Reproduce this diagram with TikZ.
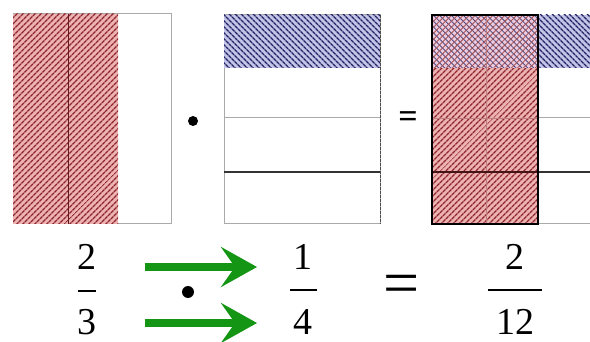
\documentclass[tikz,border=0pt]{standalone}
\usepackage{fontspec}
\setmainfont{Liberation Serif}
\usepackage{tikz}
\usetikzlibrary{arrows.meta, patterns.meta}
\definecolor{redFill}{RGB}{238,178,178}
\definecolor{redLine}{RGB}{140,40,45}
\definecolor{blueFill}{RGB}{196,196,232}
\definecolor{blueLine}{RGB}{35,35,100}
\definecolor{mixFill}{RGB}{238,205,225}
\definecolor{gridGray}{RGB}{170,170,170}
\definecolor{arrowGreen}{RGB}{20,150,20}
\tikzset{
  redHatch/.style={
    pattern={Lines[angle=45, distance=4pt, line width=1.4pt]},
    pattern color=redLine,
    preaction={fill=redFill}
  },
  blueHatch/.style={
    pattern={Lines[angle=-45, distance=4pt, line width=1.4pt]},
    pattern color=blueLine,
    preaction={fill=blueFill}
  },
  mixHatch/.style={
    pattern={Lines[angle=-45, distance=4.2pt, line width=0.9pt]},
    pattern color=blueLine!80,
    preaction={fill=mixFill},
    postaction={pattern={Lines[angle=45, distance=4.2pt, line width=0.9pt]}, pattern color=redLine!80}
  },
  frame/.style={draw=gridGray, line width=1pt},
  thinrule/.style={draw=gridGray, line width=1pt},
  darkrule/.style={draw=black!80, line width=1.3pt},
  numtxt/.style={font=\fontsize{38}{44}\selectfont, inner sep=0pt},
  eqtxt/.style={font=\fontsize{34}{40}\selectfont\bfseries, inner sep=0pt},
  bigeq/.style={font=\fontsize{64}{70}\selectfont, inner sep=0pt},
  fracbar/.style={draw=black, line width=2.6pt},
  bigdot/.style={fill=black, draw=none},
  greenArrow/.style={-{Stealth[length=36pt, width=40pt, inset=14pt]}, line width=8pt, draw=arrowGreen, fill=arrowGreen}
}

\begin{document}
\begin{tikzpicture}[x=1pt, y=-1pt]
  \useasboundingbox (0,0) rectangle (590,342);

  % first factor: two thirds
  \draw[frame] (13,14) rectangle (171,224);
  \path[redHatch] (13,14) rectangle (118,224);
  \draw[draw=redLine!70!black, line width=1pt] (68,14) -- (68,224);

  \fill[bigdot] (193,121) circle (5pt);

  % second factor: one quarter
  \draw[frame] (224,15) rectangle (380,224);
  \path[blueHatch] (224,15) rectangle (380,68);
  \draw[thinrule] (224,118) -- (380,118);
  \draw[darkrule] (224,172) -- (380,172);
  \draw[draw=black!70, line width=1pt, dash pattern=on 3pt off 1pt] (380,15) -- (380,224);

  \node[eqtxt] (eqTop) at (408,120) {=};

  % product: two twelfths
  \path[blueHatch] (538,15) rectangle (590,68);
  \path[redHatch] (432,68) rectangle (538,224);
  \path[mixHatch] (432,15) rectangle (538,68);
  \draw[thinrule] (538,118) -- (590,118);
  \draw[darkrule] (538,172) -- (590,172);
  \draw[thinrule] (538,224) -- (590,224);
  \draw[draw=redLine!60, line width=0.8pt] (486,15) -- (486,224);
  \draw[draw=redLine!60, line width=0.8pt] (432,118) -- (538,118);
  \draw[draw=redLine!50!black, line width=1.3pt] (432,172) -- (538,172);
  \draw[draw=black, line width=1.4pt] (432,15) rectangle (538,224);

  % fractions
  \node[numtxt] (aNum) at (87,257) {2};
  \node[numtxt] (aDen) at (87,322) {3};
  \draw[fracbar] (78,291) -- (96,291);

  \node[numtxt] (bNum) at (303,257) {1};
  \node[numtxt] (bDen) at (303,322) {4};
  \draw[fracbar] (290,290) -- (317,290);

  \node[bigeq] (eqBottom) at (402,290) {=};

  \node[numtxt] (cNum) at (515,257) {2};
  \node[numtxt] (cDen) at (515,322) {12};
  \draw[fracbar] (488,290) -- (542,290);

  \fill[bigdot] (188,292) circle (6pt);

  \coordinate (topStart) at (145,267);
  \coordinate (topEnd) at (257,267);
  \coordinate (botStart) at (145,323);
  \coordinate (botEnd) at (257,323);
  \draw[greenArrow] (topStart) -- (topEnd);
  \draw[greenArrow] (botStart) -- (botEnd);
\end{tikzpicture}
\end{document}
